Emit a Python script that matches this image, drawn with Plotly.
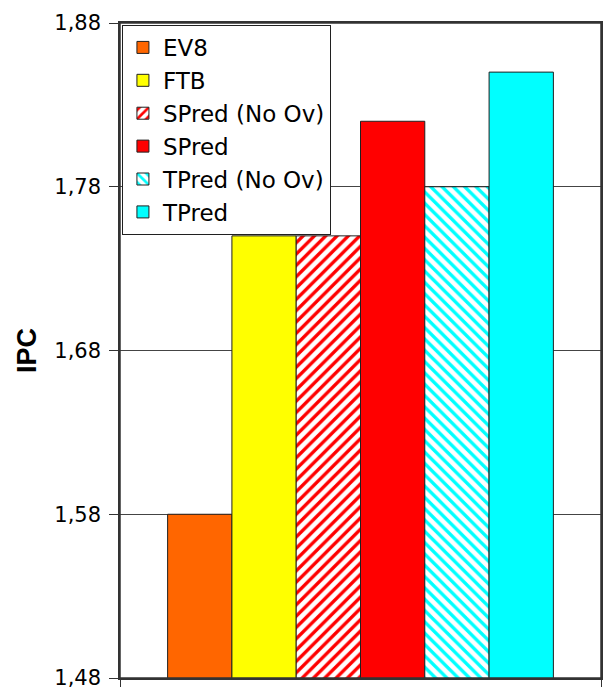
import plotly.graph_objects as go

# IPC per configuration
series = ["EV8", "FTB", "SPred (No Ov)", "SPred", "TPred (No Ov)", "TPred"]
ipc = [1.58, 1.75, 1.75, 1.82, 1.78, 1.85]
colors = ["#FF6600", "#FFFF00", "#FF0000", "#FF0000", "#00FFFF", "#00FFFF"]
hatch = ["", "", "/", "", "\\", ""]

y_ticks = [1.48, 1.58, 1.68, 1.78, 1.88]

FONT = "DejaVu Sans, Arial, sans-serif"
TITLE_FONT = "Arial, Liberation Sans, sans-serif"

fig = go.Figure()
for name, val, col, pat in zip(series, ipc, colors, hatch):
    marker = dict(color=col, line=dict(color="#202020", width=1))
    if pat:
        marker = dict(
            color="#FFFFFF",
            line=dict(color="#202020", width=1),
            pattern=dict(shape=pat, fgcolor=col, bgcolor="#FFFFFF",
                         size=8, solidity=0.42, fillmode="replace"),
        )
    fig.add_trace(go.Bar(x=[0], y=[val], name=name, marker=marker))

# frame around the plotting area
fig.add_shape(type="rect", xref="paper", yref="paper", x0=0, x1=1, y0=0, y1=1,
              line=dict(color="#333333", width=1.5), layer="above")

fig.update_layout(
    width=605,
    height=692,
    margin=dict(l=120, r=2, t=23, b=12),
    paper_bgcolor="white",
    plot_bgcolor="white",
    barmode="group",
    bargap=0.198,
    bargroupgap=0,
    separators=",.",
    font=dict(family=FONT, color="black", size=21),
    showlegend=True,
    legend=dict(
        x=0.004, y=0.997, xanchor="left", yanchor="top",
        bgcolor="white", bordercolor="#202020", borderwidth=1,
        font=dict(family=FONT, size=23, color="black"),
        traceorder="normal",
    ),
    xaxis=dict(
        range=[-0.5, 0.5],
        showgrid=False, zeroline=False,
        showline=True, linecolor="#333333", linewidth=1.5, mirror=True,
        tickmode="array", tickvals=[-0.5, 0.5], ticks="outside",
        ticklen=7, tickcolor="#333333", showticklabels=False,
    ),
    yaxis=dict(
        range=[1.48, 1.88],
        tickmode="array", tickvals=y_ticks,
        tickformat=".2f",
        ticks="outside", ticklen=9, tickcolor="#333333",
        ticklabelstandoff=4,
        ticklabeloverflow="allow",
        showgrid=True, gridcolor="#444444", gridwidth=1,
        zeroline=False,
        showline=True, linecolor="#333333", linewidth=1.5, mirror=True,
        tickfont=dict(family=FONT, size=21, color="black"),
        title=dict(text="<b>IPC</b>", font=dict(family=TITLE_FONT, size=27, color="black"),
                   standoff=10),
    ),
)

fig.write_html("out.html")
